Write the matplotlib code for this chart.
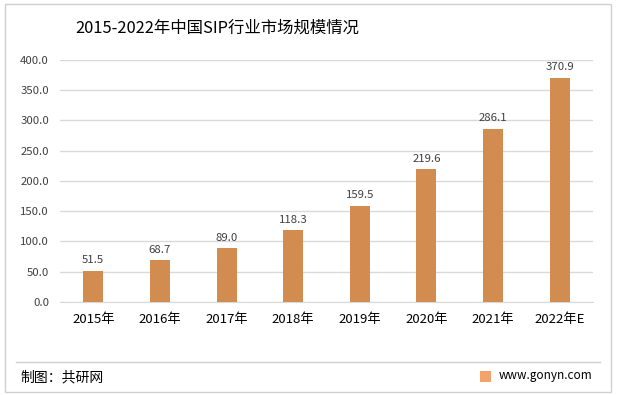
import matplotlib.pyplot as plt
from matplotlib.patches import Rectangle, FancyBboxPatch

plt.rcParams['font.family'] = ['Noto Sans CJK SC', 'DejaVu Sans']

# ── Data ──────────────────────────────────────────────────────────────────────
years = ["2015年", "2016年", "2017年", "2018年", "2019年", "2020年", "2021年", "2022年E"]
market_size = [51.5, 68.7, 89.0, 118.3, 159.5, 219.6, 286.1, 370.9]

BAR_COLOR = "#D38C4F"
GRID_COLOR = "#D9D9D9"
TEXT_COLOR = "#404040"

W, H = 617, 395
fig = plt.figure(figsize=(W / 100, H / 100), dpi=100)

# outer frame
fig.patches.append(Rectangle((5 / W, 3 / H), 606 / W, 388 / H, transform=fig.transFigure,
                             fill=False, edgecolor="#D0D0D0", linewidth=1))

ax = fig.add_axes([60 / W, (H - 302) / H, 533 / W, 242 / H])
x = range(len(years))
bars = ax.bar(x, market_size, width=0.3, color=BAR_COLOR, zorder=3)
for i, v in enumerate(market_size):
    ax.text(i, v + 9, f"{v:.1f}", ha="center", va="bottom", fontsize=8.2, color=TEXT_COLOR)

ax.set_xlim(-0.5, len(years) - 0.5)
ax.set_ylim(0, 400)
ax.set_yticks(range(0, 401, 50))
ax.set_yticklabels([f"{t:.1f}" for t in range(0, 401, 50)], fontsize=8.2, color=TEXT_COLOR)
ax.set_xticks(list(x))
ax.set_xticklabels(years, fontsize=9.5, color="#000000")
ax.tick_params(axis="both", length=0)
ax.tick_params(axis="y", pad=8)
ax.tick_params(axis="x", pad=8)
ax.grid(axis="y", color=GRID_COLOR, linewidth=1, zorder=0)
for s in ["top", "right", "left"]:
    ax.spines[s].set_visible(False)
ax.spines["bottom"].set_color(GRID_COLOR)

fig.text(75 / W, 1 - 28 / H, "2015-2022年中国SIP行业市场规模情况", fontsize=11.8,
         ha="left", va="center", color="#000000")

# footer
fig.add_artist(plt.Line2D([16 / W, 600 / W], [1 - 362 / H, 1 - 362 / H],
                          transform=fig.transFigure, color="#D0D0D0", linewidth=1))
fig.text(20 / W, 1 - 377 / H, "制图：共研网", fontsize=10, ha="left", va="center", color="#000000")
fig.patches.append(FancyBboxPatch((480 / W, 1 - 382 / H), 11 / W, 11 / H, transform=fig.transFigure,
                                  boxstyle="square,pad=0", facecolor="#F2A36A", edgecolor="none"))
fig.text(499 / W, 1 - 376 / H, "www.gonyn.com", fontsize=8.5, ha="left", va="center", color="#000000")

fig.savefig("out.png", dpi=100)
